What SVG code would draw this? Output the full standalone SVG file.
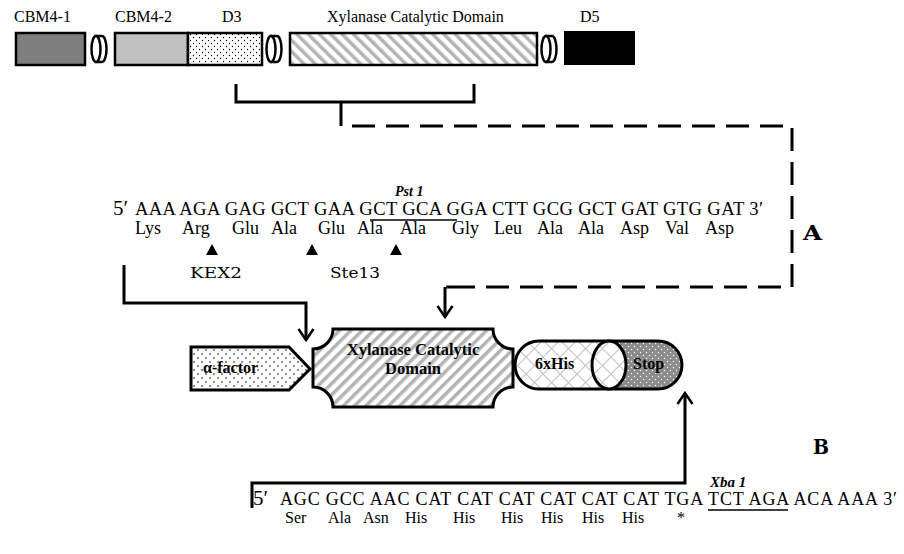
<svg xmlns="http://www.w3.org/2000/svg" width="904" height="554" viewBox="0 0 904 554">
<defs>
<style>
.t{font-family:"Liberation Serif","Times New Roman","DejaVu Serif",serif;fill:#000}
.b{font-weight:bold}
.bi{font-weight:bold;font-style:italic}
.box{stroke:#000;stroke-width:2.5}
.thick{stroke:#000;stroke-width:3;fill:none}
.dash{stroke:#000;stroke-width:3;fill:none;stroke-dasharray:23 11}
.ds{font-family:"DejaVu Serif",serif;fill:#000}
</style>
<pattern id="dotsS" width="6" height="6" patternUnits="userSpaceOnUse"><rect width="6" height="6" fill="#fff"/><circle cx="1.5" cy="1.5" r="0.65" fill="#000"/><circle cx="4.5" cy="4.5" r="0.65" fill="#000"/></pattern>
<pattern id="dotsL" width="8" height="8" patternUnits="userSpaceOnUse"><rect width="8" height="8" fill="#fff"/><circle cx="2" cy="2" r="0.8" fill="#000"/><circle cx="6" cy="6" r="0.8" fill="#000"/></pattern>
<pattern id="grayDots" width="6" height="6" patternUnits="userSpaceOnUse"><rect width="6" height="6" fill="#8c8c8c"/><circle cx="1.5" cy="1.5" r="0.7" fill="#fff"/><circle cx="4.5" cy="4.5" r="0.7" fill="#fff"/></pattern>
<pattern id="stripesBack" width="8" height="8" patternUnits="userSpaceOnUse" patternTransform="rotate(-45)"><rect width="8" height="8" fill="#fff"/><rect width="3.5" height="8" fill="#b4b4b4"/></pattern>
<pattern id="stripesFwd" width="8" height="8" patternUnits="userSpaceOnUse" patternTransform="rotate(45)"><rect width="8" height="8" fill="#fff"/><rect width="3.5" height="8" fill="#b4b4b4"/></pattern>
<pattern id="cross" width="12" height="12" patternUnits="userSpaceOnUse" patternTransform="rotate(45)"><rect width="12" height="12" fill="#fff"/><path d="M0,0 H12 M0,0 V12" stroke="#c4c4c4" stroke-width="2"/></pattern>
<marker id="arr" viewBox="0 0 14 18" refX="12" refY="9" markerWidth="14" markerHeight="18" markerUnits="userSpaceOnUse" orient="auto"><path d="M1,1.5 L12,9 L1,16.5" fill="none" stroke="#000" stroke-width="2.5"/></marker>
</defs>
<rect width="904" height="554" fill="#fff"/>

<!-- top domain bar -->
<g id="label-top" class="t" font-size="16">
<text x="14" y="22">CBM4-1</text>
<text x="115" y="22">CBM4-2</text>
<text x="222" y="22">D3</text>
<text x="327" y="22">Xylanase Catalytic Domain</text>
<text x="580" y="22">D5</text>
</g>
<g id="node-cbm41"><rect class="box" x="16" y="33" width="69" height="32" fill="#7f7f7f"/></g>
<g id="node-link1"><path class="box" fill="#fff" d="M96,36 H102 A4.5,13 0 0 1 102,62 H96 Z"/><ellipse class="box" fill="#fff" cx="96" cy="49" rx="4.5" ry="13"/></g>
<g id="node-cbm42"><rect class="box" x="115" y="33" width="73" height="32" fill="#c0c0c0"/></g>
<g id="node-d3"><rect class="box" x="188" y="33" width="74" height="32" fill="url(#dotsS)"/></g>
<g id="node-link2"><path class="box" fill="#fff" d="M271,36 H277 A4.5,13 0 0 1 277,62 H271 Z"/><ellipse class="box" fill="#fff" cx="271" cy="49" rx="4.5" ry="13"/></g>
<g id="node-xyl-top"><rect class="box" x="290" y="33" width="247" height="32" fill="url(#stripesBack)"/></g>
<g id="node-link3"><path class="box" fill="#fff" d="M546,36 H552 A4.5,13 0 0 1 552,62 H546 Z"/><ellipse class="box" fill="#fff" cx="546" cy="49" rx="4.5" ry="13"/></g>
<g id="node-d5"><rect x="564" y="31" width="71" height="34" fill="#000"/></g>

<!-- top sequence -->
<g id="seq-top">
<text class="t bi" x="395" y="196" font-size="14">Pst 1</text>
<text class="t" x="113" y="215" font-size="21">5′</text>
<text class="t" x="135" y="215" font-size="18.6" textLength="628">AAA AGA GAG GCT GAA GCT GCA GGA CTT GCG GCT GAT GTG GAT 3′</text>
<line x1="370" y1="220" x2="457" y2="220" stroke="#000" stroke-width="1.3"/>
<text class="t" y="234" font-size="18"><tspan x="135">Lys</tspan><tspan x="182">Arg</tspan><tspan x="232">Glu</tspan><tspan x="271">Ala</tspan><tspan x="318">Glu</tspan><tspan x="357">Ala</tspan><tspan x="400">Ala</tspan><tspan x="452">Gly</tspan><tspan x="494">Leu</tspan><tspan x="537">Ala</tspan><tspan x="578">Ala</tspan><tspan x="620">Asp</tspan><tspan x="665">Val</tspan><tspan x="705">Asp</tspan></text>
<path d="M206,255 L212,244 L218,255 Z M306,255 L312,244 L318,255 Z M390,255 L396,244 L402,255 Z" fill="#000"/>
<text class="ds" x="190" y="278" font-size="15" textLength="52" lengthAdjust="spacingAndGlyphs">KEX2</text>
<text class="ds" x="330" y="278" font-size="15" textLength="50" lengthAdjust="spacingAndGlyphs">Ste13</text>
</g>

<!-- connectors -->
<g id="connectors">
<path class="thick" d="M236,84 V102 H474 V84"/>
<path class="thick" d="M341,102 V126"/>
<path class="dash" d="M352,126 H792 V287 H452"/>
<path class="thick" d="M445,287 V317" marker-end="url(#arr)"/>
<path class="thick" d="M446,287 H452"/>
<path class="thick" d="M124,265 V303 H306 V340" marker-end="url(#arr)"/>
<path class="thick" d="M252,508 V483 H685 V393" marker-end="url(#arr)"/>
</g>

<!-- construct -->
<g id="node-alpha">
<path d="M191,347 H289 L310,369 L289,390 H191 Z" fill="url(#dotsL)" stroke="#000" stroke-width="3"/>
<text class="t b" x="203" y="373" font-size="16">α-factor</text>
</g>
<g id="node-xyl">
<path d="M333,329 H493 A20,20 0 0 0 513,349 V387 A20,20 0 0 0 493,407 H333 A20,20 0 0 0 313,387 V349 A20,20 0 0 0 333,329 Z" fill="url(#stripesFwd)" stroke="#000" stroke-width="3"/>
<text class="t b" x="413" y="355" font-size="16.5" text-anchor="middle">Xylanase Catalytic</text>
<text class="t b" x="413" y="374" font-size="16.5" text-anchor="middle">Domain</text>
</g>
<g id="node-his-stop">
<path d="M609,341 H539 A24,24 0 0 0 539,389 H609 Z" fill="url(#cross)"/>
<path d="M609,341 H658 A24,24 0 0 1 658,389 H609 Z" fill="url(#grayDots)"/>
<rect x="515" y="341" width="167" height="48" rx="24" fill="none" stroke="#000" stroke-width="3"/>
<ellipse cx="609" cy="365" rx="17" ry="24" fill="url(#cross)" stroke="#000" stroke-width="3"/>
<text class="t b" x="535" y="369" font-size="16">6xHis</text>
<text class="t b" x="633" y="369" font-size="16">Stop</text>
</g>

<!-- bottom sequence -->
<g id="seq-bottom">
<text class="t bi" x="710" y="487" font-size="15">Xba 1</text>
<text class="t" x="253" y="505" font-size="21">5′</text>
<text class="t" x="280" y="505" font-size="18" textLength="617">AGC GCC AAC CAT CAT CAT CAT CAT CAT TGA TCT AGA ACA AAA 3′</text>
<line x1="708" y1="510" x2="788" y2="510" stroke="#000" stroke-width="1.3"/>
<text class="t" y="523" font-size="16"><tspan x="285">Ser</tspan><tspan x="328">Ala</tspan><tspan x="363">Asn</tspan><tspan x="405">His</tspan><tspan x="453">His</tspan><tspan x="501">His</tspan><tspan x="541">His</tspan><tspan x="582">His</tspan><tspan x="622">His</tspan><tspan x="677">*</tspan></text>
</g>

<g id="panel-labels">
<text class="ds" x="803" y="240" font-size="21" font-weight="bold" textLength="19" lengthAdjust="spacingAndGlyphs">A</text>
<text class="ds" x="813" y="454" font-size="21" font-weight="bold" textLength="16" lengthAdjust="spacingAndGlyphs">B</text>
</g>
</svg>
